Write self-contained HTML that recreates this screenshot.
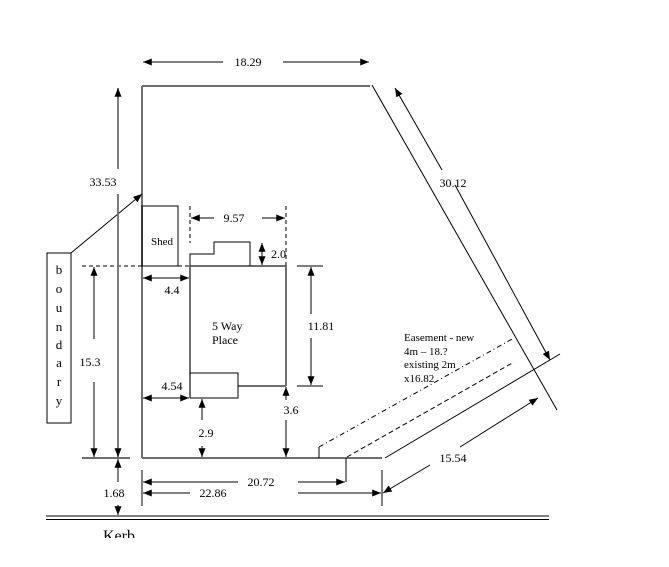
<!DOCTYPE html>
<html><head><meta charset="utf-8"><style>
html,body{margin:0;padding:0;background:#fff;}
svg{display:block;}
text{font-family:"Liberation Serif",serif;fill:#000;}
</style></head><body>
<svg width="669" height="567" viewBox="0 0 669 567" xmlns="http://www.w3.org/2000/svg">
<defs>
<marker id="a" viewBox="0 0 10 8" refX="10" refY="4" markerWidth="9" markerHeight="7" markerUnits="userSpaceOnUse" orient="auto-start-reverse">
<path d="M0,0 L10,4 L0,8 z" fill="#000"/>
</marker>
<clipPath id="kc"><rect x="0" y="0" width="669" height="538"/></clipPath>
</defs>

<!-- property boundary (gray) -->
<g stroke="#6e6e6e" stroke-width="2" fill="none">
<line x1="142" y1="86" x2="370" y2="86"/>
<line x1="142" y1="86" x2="142" y2="458"/>
<line x1="142" y1="458" x2="382" y2="458"/>
<line x1="82" y1="458" x2="130" y2="458"/>
<!-- house -->
<line x1="190" y1="266" x2="286" y2="266"/>
<line x1="286" y1="266" x2="286" y2="386"/>
<line x1="190" y1="266" x2="190" y2="398"/>
<line x1="238" y1="386" x2="286" y2="386"/>
</g>

<g stroke="#000" stroke-width="1" fill="none">
<!-- diagonal boundary -->
<line x1="372" y1="85" x2="557" y2="410"/>
<!-- shed -->
<rect x="142" y="206" width="36" height="60"/>
<!-- steps -->
<polyline points="190,266 190,254 214,254 214,242 250,242 250,266"/>
<!-- lower bump -->
<polyline points="190,373 238,373 238,398 190,398"/>
<!-- ticks -->
<line x1="297" y1="266" x2="323" y2="266"/>
<line x1="297" y1="386" x2="323" y2="386"/>
<line x1="142" y1="470" x2="142" y2="506"/>
<line x1="382" y1="470" x2="382" y2="506"/>
<line x1="346" y1="458" x2="346" y2="482"/>
<line x1="319" y1="447" x2="319" y2="458"/>
<!-- kerb -->
<line x1="46" y1="516" x2="549" y2="516"/>
<line x1="46" y1="519.5" x2="549" y2="519.5"/>
<!-- easement lines -->
<line x1="319" y1="447" x2="514" y2="338" stroke-dasharray="5,3,1,3"/>
<line x1="347" y1="457" x2="514" y2="362" stroke-dasharray="5,3"/>
<line x1="385" y1="458" x2="560" y2="354"/>
<!-- boundary box -->
<rect x="47" y="253" width="24" height="170"/>
</g>

<!-- dashed guides -->
<g stroke="#000" stroke-width="1" fill="none" stroke-dasharray="4,3">
<line x1="82" y1="266" x2="142" y2="266"/>
<line x1="178" y1="266" x2="190" y2="266"/>
<line x1="190" y1="206" x2="190" y2="243"/>
<line x1="286" y1="206" x2="286" y2="266"/>
</g>

<!-- dimension arrows -->
<g stroke="#000" stroke-width="1" fill="none">
<line x1="143" y1="62" x2="223" y2="62" marker-start="url(#a)"/>
<line x1="283" y1="62" x2="369" y2="62" marker-end="url(#a)"/>
<line x1="395" y1="88" x2="442" y2="170" marker-start="url(#a)"/>
<line x1="455" y1="185" x2="550" y2="360" marker-end="url(#a)"/>
<line x1="71" y1="253" x2="142" y2="194" marker-end="url(#a)"/>
<line x1="191" y1="218" x2="214" y2="218" marker-start="url(#a)"/>
<line x1="262" y1="218" x2="285" y2="218" marker-end="url(#a)"/>
<line x1="262" y1="243" x2="262" y2="265" marker-start="url(#a)" marker-end="url(#a)"/>
<line x1="143" y1="278" x2="189" y2="278" marker-start="url(#a)" marker-end="url(#a)"/>
<line x1="143" y1="398" x2="189" y2="398" marker-start="url(#a)" marker-end="url(#a)"/>
<line x1="94" y1="267" x2="94" y2="339" marker-start="url(#a)"/>
<line x1="94" y1="382" x2="94" y2="457" marker-end="url(#a)"/>
<line x1="311" y1="267" x2="311" y2="314" marker-start="url(#a)"/>
<line x1="311" y1="338" x2="311" y2="385" marker-end="url(#a)"/>
<line x1="286" y1="387" x2="286" y2="400" marker-start="url(#a)"/>
<line x1="286" y1="420" x2="286" y2="457" marker-end="url(#a)"/>
<line x1="202" y1="399" x2="202" y2="420" marker-start="url(#a)"/>
<line x1="202" y1="446" x2="202" y2="457" marker-end="url(#a)"/>
<line x1="118" y1="459" x2="118" y2="482" marker-start="url(#a)"/>
<line x1="118" y1="505" x2="118" y2="515" marker-end="url(#a)"/>
<line x1="143" y1="482" x2="238" y2="482" marker-start="url(#a)"/>
<line x1="298" y1="482" x2="345" y2="482" marker-end="url(#a)"/>
<line x1="143" y1="493" x2="190" y2="493" marker-start="url(#a)"/>
<line x1="298" y1="493" x2="381" y2="493" marker-end="url(#a)"/>
<line x1="383" y1="493" x2="430" y2="465" marker-start="url(#a)"/>
<line x1="460" y1="447" x2="538" y2="398" marker-end="url(#a)"/>
</g>
<g stroke="#6e6e6e" stroke-width="1.8" fill="none">
<line x1="118" y1="88" x2="118" y2="169" marker-start="url(#a)"/>
<line x1="118" y1="194" x2="118" y2="457" marker-end="url(#a)"/>
</g>

<!-- labels -->
<g font-size="12" text-anchor="middle">
<text x="248" y="66">18.29</text>
<text x="453" y="187">30.12</text>
<text x="103" y="186">33.53</text>
<text x="234" y="222">9.57</text>
<text x="172" y="294">4.4</text>
<text x="172" y="390">4.54</text>
<text x="90" y="366">15.3</text>
<text x="321" y="330">11.81</text>
<text x="291" y="414">3.6</text>
<text x="206" y="437">2.9</text>
<text x="114" y="497">1.68</text>
<text x="261" y="486">20.72</text>
<text x="213" y="497">22.86</text>
<text x="453" y="462">15.54</text>
</g>
<text x="271" y="258" font-size="12">2.0</text>
<text x="162" y="245" font-size="11" text-anchor="middle">Shed</text>
<text x="212" y="330" font-size="12">5 Way</text>
<text x="212" y="344" font-size="12">Place</text>
<g font-size="11">
<text x="404" y="341">Easement - new</text>
<text x="404" y="355">4m – 18.?</text>
<text x="404" y="368">existing 2m</text>
<text x="404" y="382">x16.82</text>
</g>
<g font-size="13" text-anchor="middle">
<text x="59" y="274">b</text>
<text x="59" y="293">o</text>
<text x="59" y="312">u</text>
<text x="59" y="331">n</text>
<text x="59" y="349">d</text>
<text x="59" y="367">a</text>
<text x="59" y="386">r</text>
<text x="59" y="405">y</text>
</g>
<text x="103" y="541" font-size="16" clip-path="url(#kc)">Kerb</text>
</svg>
</body></html>
